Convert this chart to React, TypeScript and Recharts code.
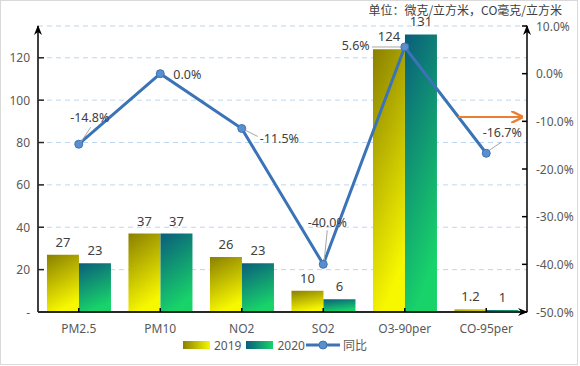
import { ComposedChart, Bar, Line, XAxis, YAxis, CartesianGrid, Legend, LabelList } from "recharts";

const categories = ["PM2.5", "PM10", "NO2", "SO2", "O3-90per", "CO-95per"];
const values2019 = [27, 37, 26, 10, 124, 1.2];
const values2020 = [23, 37, 23, 6, 131, 1];
const yoy = [-14.8, 0.0, -11.5, -40.0, 5.6, -16.7];
const leftTicks = [0, 20, 40, 60, 80, 100, 120];
const rightTicks = [10, 0, -10, -20, -30, -40, -50];

const data = categories.map((name, i) => ({
  name,
  y2019: values2019[i],
  y2020: values2020[i],
  yoy: yoy[i],
}));

// where each 同比 label sits relative to its point, plus its leader line
const yoyLabelPos = [
  { tx: 11, ty: -27, anchor: "middle", lead: [2, -2, 12, -17] },
  { tx: 13, ty: 1, anchor: "start", lead: null },
  { tx: 18, ty: 10, anchor: "start", lead: [4, 2, 16, 8] },
  { tx: 4, ty: -42, anchor: "middle", lead: [1, -4, 4, -34] },
  { tx: -35, ty: -1, anchor: "end", lead: [-4, 0, -33, 0] },
  { tx: 16, ty: -21, anchor: "middle", lead: [3, -3, 15, -11] },
];

const FONT = "'Noto Sans', 'Noto Sans CJK SC', sans-serif";
const TXT = "#595959";

const YoyLabel = (props: any) => {
  const { x, y, value, index } = props;
  const p = yoyLabelPos[index];
  return (
    <g>
      {p.lead && (
        <line
          x1={x + p.lead[0]}
          y1={y + p.lead[1]}
          x2={x + p.lead[2]}
          y2={y + p.lead[3]}
          stroke="#a6a6a6"
          strokeWidth={1}
        />
      )}
      <text
        x={x + p.tx}
        y={y + p.ty}
        textAnchor={p.anchor}
        dominantBaseline="central"
        fontSize={12.5}
        fill="#404040"
        fontFamily={FONT}
      >
        {value.toFixed(1) + "%"}
      </text>
    </g>
  );
};

const LeftTick = (props: any) => {
  const { x, y, payload } = props;
  const ax = x + 8;
  return (
    <g>
      <line x1={ax} y1={y} x2={ax + 6} y2={y} stroke="#262626" strokeWidth={1.5} />
      <text x={x} y={y} textAnchor="end" dominantBaseline="central" fontSize={12} fill={TXT} fontFamily={FONT}>
        {payload.value === 0 ? "-" : payload.value}
      </text>
    </g>
  );
};

const RightTick = (props: any) => {
  const { x, y, payload } = props;
  const ax = x - 8;
  return (
    <g>
      <line x1={ax - 5} y1={y} x2={ax} y2={y} stroke="#000" strokeWidth={1.5} />
      <text x={x + 1} y={y} textAnchor="start" dominantBaseline="central" fontSize={12} fill={TXT} fontFamily={FONT}>
        {payload.value.toFixed(1) + "%"}
      </text>
    </g>
  );
};

const BottomTick = (props: any) => {
  const { x, y, payload } = props;
  const ax = y - 8;
  return (
    <g>
      <line x1={x} y1={ax - 4} x2={x} y2={ax} stroke="#000" strokeWidth={1.5} />
      <text x={x} y={y + 8} textAnchor="middle" dominantBaseline="central" fontSize={12} fill={TXT} fontFamily={FONT}>
        {payload.value}
      </text>
    </g>
  );
};

const LegendContent = () => (
  <div
    style={{
      display: "flex",
      alignItems: "center",
      height: 18,
      fontSize: 12,
      color: TXT,
      fontFamily: FONT,
    }}
  >
    <span style={{ width: 27, height: 8, background: "linear-gradient(90deg, #8a8000, #f7f700)", marginRight: 4 }} />
    <span style={{ marginRight: 5 }}>2019</span>
    <span style={{ width: 27, height: 8, background: "linear-gradient(90deg, #0a5d7b, #18d26a)", marginRight: 4 }} />
    <span>2020</span>
    <svg width={34} height={10} style={{ margin: "0 3px 0 1px" }}>
      <line x1={0} y1={5} x2={34} y2={5} stroke="#3a74b6" strokeWidth={3} />
      <circle cx={17} cy={5} r={4} fill="#5b8fcc" stroke="#3a74b6" strokeWidth={1} />
    </svg>
    <span>同比</span>
  </div>
);

export default function App() {
  return (
    <div style={{ position: "absolute", left: 0, top: 0, width: 580, height: 366, background: "#fff" }}>
      <div
        style={{
          position: "absolute",
          left: 0,
          top: 0,
          width: 578,
          height: 365,
          border: "1px solid #d9d9d9",
          boxSizing: "border-box",
        }}
      />
      <ComposedChart
        width={580}
        height={366}
        data={data}
        margin={{ top: 26, right: 0, bottom: 12, left: 0 }}
        barCategoryGap="11%"
        barGap={0}
      >
        <defs>
          <linearGradient id="g2019" x1="0" y1="0" x2="0.3" y2="1">
            <stop offset="0%" stopColor="#8a8000" />
            <stop offset="100%" stopColor="#f7f700" />
          </linearGradient>
          <linearGradient id="g2020" x1="0" y1="0" x2="0.3" y2="1">
            <stop offset="0%" stopColor="#0a5d7b" />
            <stop offset="100%" stopColor="#18d26a" />
          </linearGradient>
          <marker id="arr" viewBox="0 0 10 8" refX="9" refY="4" markerWidth="10" markerHeight="8" markerUnits="userSpaceOnUse" orient="auto-start-reverse">
            <path d="M0,0 L10,4 L0,8 L3,4 z" fill="#000" />
          </marker>
        </defs>
        <CartesianGrid yAxisId="left" vertical={false} stroke="#bdd7ee" strokeDasharray="5 4" />
        <XAxis
          dataKey="name"
          height={24}
          tickLine={false}
          tick={<BottomTick />}
          interval={0}
          axisLine={{ stroke: "#262626", strokeWidth: 2, markerEnd: "url(#arr)" }}
        />
        <YAxis
          yAxisId="left"
          width={38}
          domain={[0, 135]}
          ticks={leftTicks}
          tickLine={false}
          tick={<LeftTick />}
          axisLine={{ stroke: "#404040", strokeWidth: 2, markerStart: "url(#arr)" }}
        />
        <YAxis
          yAxisId="right"
          orientation="right"
          width={53}
          domain={[-50, 10]}
          ticks={rightTicks}
          tickLine={false}
          tick={<RightTick />}
          axisLine={{ stroke: "#000", strokeWidth: 1.5, markerStart: "url(#arr)" }}
        />
        <Bar yAxisId="left" dataKey="y2019" name="2019" fill="url(#g2019)" isAnimationActive={false}>
          <LabelList dataKey="y2019" position="top" offset={8} fontSize={13} fill="#404040" fontFamily={FONT} />
        </Bar>
        <Bar yAxisId="left" dataKey="y2020" name="2020" fill="url(#g2020)" isAnimationActive={false}>
          <LabelList dataKey="y2020" position="top" offset={8} fontSize={13} fill="#404040" fontFamily={FONT} />
        </Bar>
        <Line
          yAxisId="right"
          dataKey="yoy"
          name="同比"
          type="linear"
          stroke="#3a74b6"
          strokeWidth={3}
          dot={{ r: 4, fill: "#5b8fcc", stroke: "#3a74b6", strokeWidth: 1 }}
          label={<YoyLabel />}
          isAnimationActive={false}
        />
        <Legend content={<LegendContent />} wrapperStyle={{ left: 183, bottom: 12, height: 18 }} />
      </ComposedChart>
      <svg width={580} height={366} style={{ position: "absolute", left: 0, top: 0, pointerEvents: "none" }}>
        <defs>
          <marker id="oarr" viewBox="0 0 10 10" refX="9" refY="5" markerWidth="12" markerHeight="12" markerUnits="userSpaceOnUse" orient="auto">
            <path d="M0,0 L10,5 L0,10" fill="none" stroke="#ed7d31" strokeWidth={2} />
          </marker>
        </defs>
        <line x1={458} y1={117} x2={522} y2={117} stroke="#ed7d31" strokeWidth={2} markerEnd="url(#oarr)" />
      </svg>
      <div
        style={{
          position: "absolute",
          right: 18,
          top: 3,
          fontSize: 12,
          lineHeight: "14px",
          color: "#404040",
          fontFamily: "'Noto Sans CJK SC', sans-serif",
          whiteSpace: "nowrap",
        }}
      >
        单位：微克/立方米，CO毫克/立方米
      </div>
    </div>
  );
}
